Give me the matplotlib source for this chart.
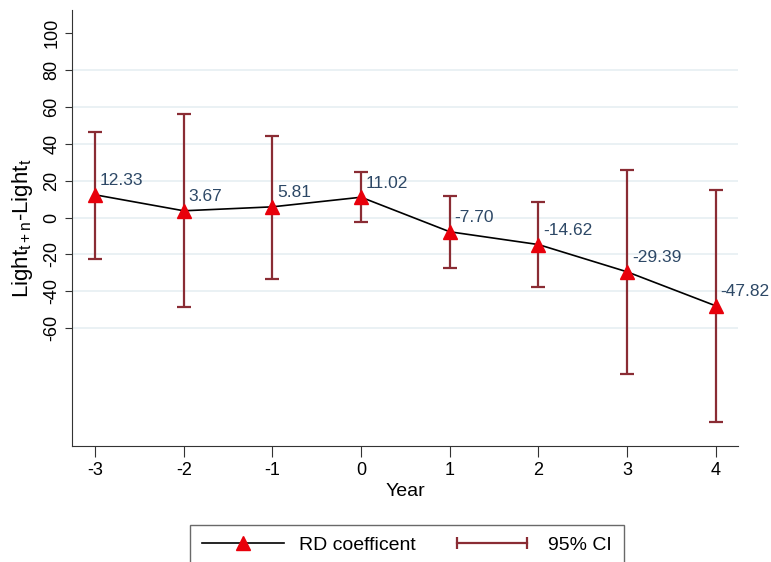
import matplotlib
matplotlib.use('Agg')
import matplotlib.pyplot as plt
from matplotlib.lines import Line2D
from matplotlib.legend_handler import HandlerLine2D

plt.rcParams['font.family'] = ['Liberation Sans', 'DejaVu Sans']
plt.rcParams['axes.unicode_minus'] = False
plt.rcParams['mathtext.default'] = 'regular'

years = [-3, -2, -1, 0, 1, 2, 3, 4]
coef = [12.33, 3.67, 5.81, 11.02, -7.70, -14.62, -29.39, -47.82]
ci_low = [-22.7, -48.6, -33.0, -2.3, -27.4, -37.8, -84.9, -110.6]
ci_high = [46.6, 56.2, 44.3, 24.5, 11.9, 8.5, 25.6, 14.8]
labels = ['12.33', '3.67', '5.81', '11.02', '-7.70', '-14.62', '-29.39', '-47.82']

ci_color = '#8a2c34'
txt_color = '#2d4866'
grid_color = '#e6eff2'

fig = plt.figure(figsize=(7.71, 5.62), dpi=100)
ax = fig.add_axes([72 / 771, 1 - 446 / 562, (738 - 72) / 771, (446 - 10) / 562])

for y in range(-60, 100, 20):
    ax.axhline(y, color=grid_color, lw=1.2, zorder=0)

yerr = [[c - lo for c, lo in zip(coef, ci_low)], [hi - c for c, hi in zip(coef, ci_high)]]
ax.errorbar(years, coef, yerr=yerr, fmt='none', ecolor=ci_color, elinewidth=1.6,
            capsize=5, capthick=1.6, zorder=2)
ax.plot(years, coef, color='black', lw=1.2, marker='^', markersize=10,
        markerfacecolor='#e8000b', markeredgecolor='#e8000b', zorder=3)

for x, c, s in zip(years, coef, labels):
    ax.annotate(s, (x, c), xytext=(3.5, 10), textcoords='offset points',
                ha='left', va='center', color=txt_color, fontsize=12.5)

ax.set_xlim(-3.26, 4.25)
ax.set_ylim(-123.7, 112.4)
ax.set_yticks(range(-60, 101, 20))
ax.set_xticks(years)
ax.tick_params(axis='y', labelrotation=90, length=5, labelsize=13, color='#333333')
ax.tick_params(axis='x', length=8, labelsize=13, color='#333333')
for lab in ax.get_yticklabels():
    lab.set_va('center')
for side in ['top', 'right']:
    ax.spines[side].set_visible(False)
for side in ['left', 'bottom']:
    ax.spines[side].set_color('#333333')

ax.set_xlabel('Year', fontsize=14, labelpad=3)
ax.set_ylabel('Light$_{t+n}$-Light$_{t}$', fontsize=16, labelpad=6)

h1 = Line2D([0], [0], color='black', lw=1.2, marker='^', markersize=10,
            markerfacecolor='#e8000b', markeredgecolor='#e8000b')
h2 = Line2D([0], [0], color=ci_color, lw=1.6, marker='|', markersize=9, markeredgewidth=1.6)
fig.legend([h1, h2], ['RD coefficent', '95% CI'], ncol=2, loc='upper center',
           bbox_to_anchor=(0.528, 1 - 515 / 562), fontsize=14, frameon=True,
           fancybox=False, edgecolor='#444444', handlelength=4.2, columnspacing=1.8,
           borderpad=0.6,
           handler_map={h1: HandlerLine2D(numpoints=1), h2: HandlerLine2D(numpoints=2)})

fig.savefig('out.png', dpi=100)
